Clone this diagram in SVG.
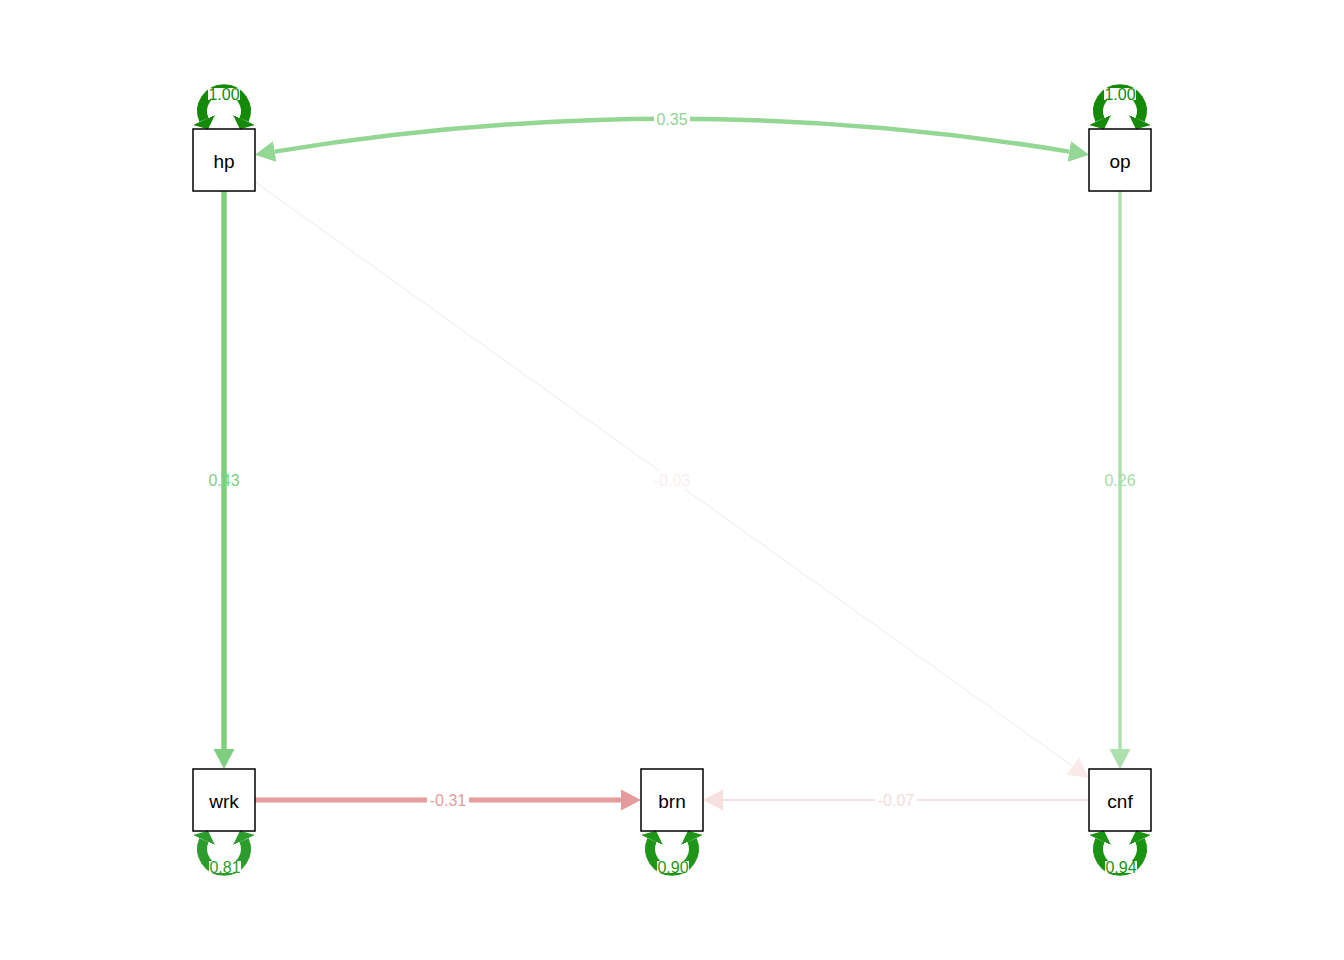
<svg xmlns="http://www.w3.org/2000/svg" width="1344" height="960" viewBox="0 0 1344 960">
<style>
.node rect{fill:#fff;stroke:#000;stroke-width:1.5}
.node text{font-family:"Liberation Sans",Arial,sans-serif;font-size:19px;text-anchor:middle;dominant-baseline:central;fill:#000}
.lbl{font-family:"Liberation Sans",Arial,sans-serif;font-size:16px;text-anchor:middle;dominant-baseline:central}
.bg{fill:#fff}
.loop{fill:none;stroke-width:10}
</style>
<defs>
<marker id="aG43" markerUnits="userSpaceOnUse" viewBox="0 -11 20 22" refX="0" refY="0" markerWidth="20" markerHeight="22" orient="auto-start-reverse"><path d="M0,-10.5L20,0L0,10.5z" fill="#7fcf7f"/></marker>
<marker id="aG26" markerUnits="userSpaceOnUse" viewBox="0 -11 20 22" refX="0" refY="0" markerWidth="20" markerHeight="22" orient="auto-start-reverse"><path d="M0,-10.5L20,0L0,10.5z" fill="#acdfac"/></marker>
<marker id="aG35" markerUnits="userSpaceOnUse" viewBox="0 -11 20 22" refX="0" refY="0" markerWidth="20" markerHeight="22" orient="auto-start-reverse"><path d="M0,-10.5L20,0L0,10.5z" fill="#94d694"/></marker>
<marker id="aR31" markerUnits="userSpaceOnUse" viewBox="0 -11 20 22" refX="0" refY="0" markerWidth="20" markerHeight="22" orient="auto-start-reverse"><path d="M0,-10.5L20,0L0,10.5z" fill="#e49c9c"/></marker>
<marker id="aR07" markerUnits="userSpaceOnUse" viewBox="0 -11 20 22" refX="0" refY="0" markerWidth="20" markerHeight="22" orient="auto-start-reverse"><path d="M0,-10.5L20,0L0,10.5z" fill="#f7e0e0"/></marker>
<marker id="aR03" markerUnits="userSpaceOnUse" viewBox="0 -11 20 22" refX="0" refY="0" markerWidth="20" markerHeight="22" orient="auto-start-reverse"><path d="M0,-10.5L20,0L0,10.5z" fill="#f9e9e9"/></marker>
<marker id="lA" markerUnits="userSpaceOnUse" viewBox="0 -12 10 24" refX="0" refY="0" markerWidth="10" markerHeight="24" orient="auto-start-reverse"><path d="M0,-12L10,0L0,12z" fill="#148a08"/></marker>
<marker id="lB" markerUnits="userSpaceOnUse" viewBox="0 -12 10 24" refX="0" refY="0" markerWidth="10" markerHeight="24" orient="auto-start-reverse"><path d="M0,-12L10,0L0,12z" fill="#2c9d2c"/></marker>
<marker id="lC" markerUnits="userSpaceOnUse" viewBox="0 -12 10 24" refX="0" refY="0" markerWidth="10" markerHeight="24" orient="auto-start-reverse"><path d="M0,-12L10,0L0,12z" fill="#1f9618"/></marker>
<marker id="lD" markerUnits="userSpaceOnUse" viewBox="0 -12 10 24" refX="0" refY="0" markerWidth="10" markerHeight="24" orient="auto-start-reverse"><path d="M0,-12L10,0L0,12z" fill="#1a9212"/></marker>
</defs>

<g id="connectors">
  <!-- hp -> cnf -->
  <line x1="255" y1="182" x2="1072.7" y2="766.2" stroke="#f7eeee" stroke-width="1.2" marker-end="url(#aR03)"/>
  <rect class="bg" x="651" y="471" width="42" height="18"/>
  <text class="lbl" x="672" y="480" fill="#fbeded">-0.03</text>

  <!-- hp -> wrk -->
  <line x1="224" y1="191" x2="224" y2="749" stroke="#7fcf7f" stroke-width="5.5" marker-end="url(#aG43)"/>
  <text class="lbl" x="224" y="480" fill="#7fcf7f">0.43</text>

  <!-- op -> cnf -->
  <line x1="1120" y1="191" x2="1120" y2="749" stroke="#acdfac" stroke-width="3.5" marker-end="url(#aG26)"/>
  <text class="lbl" x="1120" y="480" fill="#a8dca8">0.26</text>

  <!-- hp <-> op -->
  <path d="M274.7,151.6 Q672,86 1069.3,151.6" fill="none" stroke="#94d694" stroke-width="4.5" marker-start="url(#aG35)" marker-end="url(#aG35)"/>
  <rect class="bg" x="654" y="110" width="36" height="18"/>
  <text class="lbl" x="672" y="119" fill="#90d490">0.35</text>

  <!-- wrk -> brn -->
  <line x1="255" y1="800" x2="621" y2="800" stroke="#e49c9c" stroke-width="5" marker-end="url(#aR31)"/>
  <rect class="bg" x="427" y="791" width="42" height="18"/>
  <text class="lbl" x="448" y="800" fill="#e49c9c">-0.31</text>

  <!-- cnf -> brn -->
  <line x1="1089" y1="800" x2="723" y2="800" stroke="#f6e1e1" stroke-width="2" marker-end="url(#aR07)"/>
  <rect class="bg" x="875" y="791" width="42" height="18"/>
  <text class="lbl" x="896" y="800" fill="#f5dcdc">-0.07</text>
</g>

<g id="loops">
  <g id="loop-hp">
    <path class="loop" d="M204,120 A21.9,21.9 0 1 1 244,120" stroke="#148a08" marker-start="url(#lA)" marker-end="url(#lA)"/>
    <rect class="bg" x="208" y="88" width="32" height="12"/>
    <text class="lbl" x="224" y="94" fill="#148a08">1.00</text>
  </g>
  <g id="loop-op">
    <path class="loop" d="M1100,120 A21.9,21.9 0 1 1 1140,120" stroke="#148a08" marker-start="url(#lA)" marker-end="url(#lA)"/>
    <rect class="bg" x="1104" y="88" width="32" height="12"/>
    <text class="lbl" x="1120" y="94" fill="#148a08">1.00</text>
  </g>
  <g id="loop-wrk">
    <path class="loop" d="M204,840 A21.9,21.9 0 1 0 244,840" stroke="#2c9d2c" marker-start="url(#lB)" marker-end="url(#lB)"/>
    <rect class="bg" x="209" y="861" width="32" height="12"/>
    <text class="lbl" x="225" y="867" fill="#2c9d2c">0.81</text>
  </g>
  <g id="loop-brn">
    <path class="loop" d="M652,840 A21.9,21.9 0 1 0 692,840" stroke="#1f9618" marker-start="url(#lC)" marker-end="url(#lC)"/>
    <rect class="bg" x="657" y="861" width="32" height="12"/>
    <text class="lbl" x="673" y="867" fill="#1f9618">0.90</text>
  </g>
  <g id="loop-cnf">
    <path class="loop" d="M1100,840 A21.9,21.9 0 1 0 1140,840" stroke="#1a9212" marker-start="url(#lD)" marker-end="url(#lD)"/>
    <rect class="bg" x="1105" y="861" width="32" height="12"/>
    <text class="lbl" x="1121" y="867" fill="#1a9212">0.94</text>
  </g>
</g>

<g id="hp" class="node"><rect x="193" y="129" width="62" height="62"/><text x="224" y="161">hp</text></g>
<g id="op" class="node"><rect x="1089" y="129" width="62" height="62"/><text x="1120" y="161">op</text></g>
<g id="wrk" class="node"><rect x="193" y="769" width="62" height="62"/><text x="224" y="801">wrk</text></g>
<g id="brn" class="node"><rect x="641" y="769" width="62" height="62"/><text x="672" y="801">brn</text></g>
<g id="cnf" class="node"><rect x="1089" y="769" width="62" height="62"/><text x="1120" y="801">cnf</text></g>
</svg>
